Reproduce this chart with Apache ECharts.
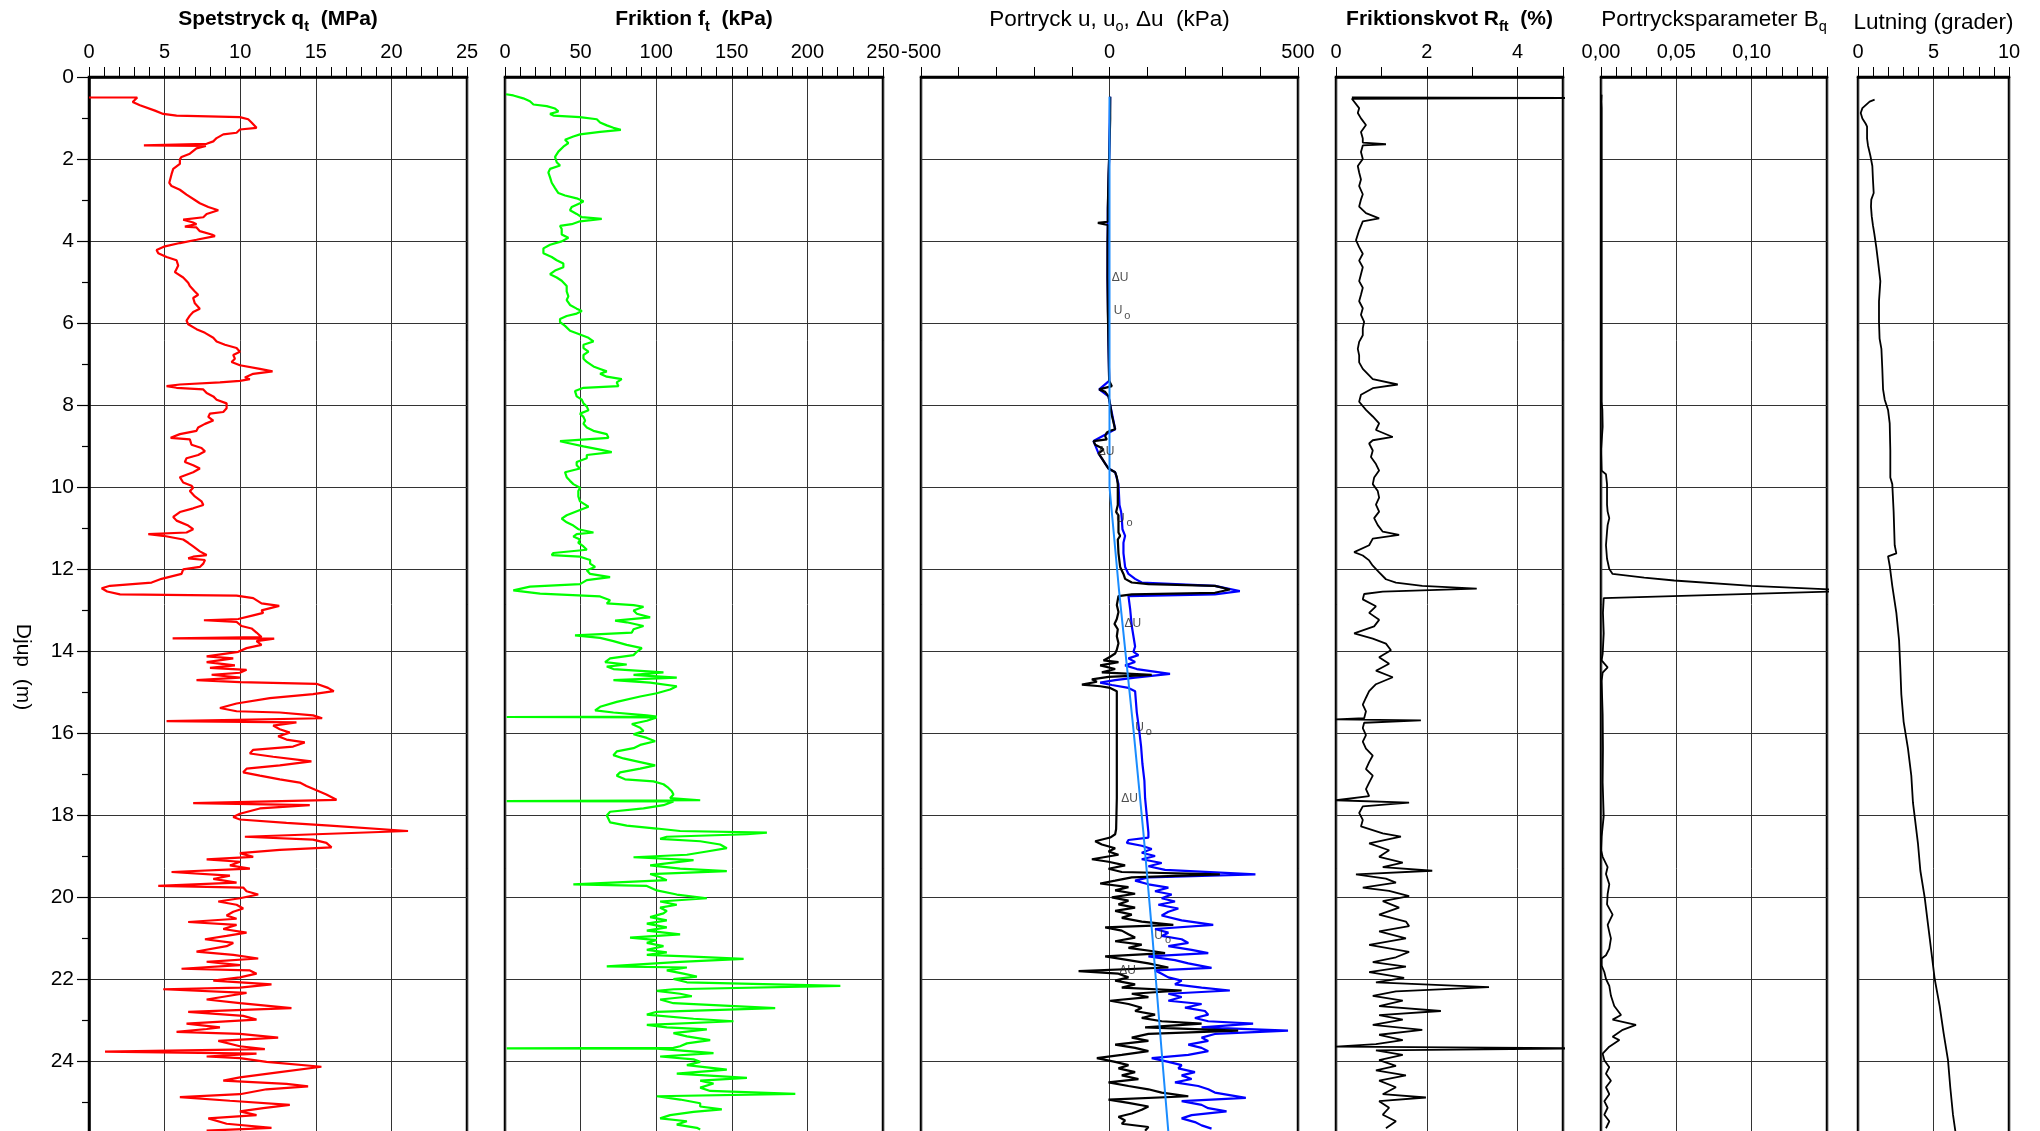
<!DOCTYPE html>
<html>
<head>
<meta charset="utf-8">
<title>CPT</title>
<script src="https://cdn.jsdelivr.net/npm/echarts@6/dist/echarts.min.js"></script>
<style>
html, body { margin: 0; padding: 0; background: #fff; }
#chart { width: 2040px; height: 1131px; }
</style>
</head>
<body>
<div id="chart"></div>
<script>
const FONT = 'Liberation Sans, Arial, sans-serif';

// all series: [djup (m), value]
const qtData = [[0.50,0],[0.50,3.19],[0.61,2.89],[0.69,3.37],[0.82,4.36],[0.90,4.91],[0.94,5.79],[0.98,9.98],[1.03,10.53],[1.11,10.75],[1.24,11.08],[1.28,9.98],[1.36,9.76],[1.40,8.88],[1.49,8.44],[1.57,8.22],[1.63,7.78],[1.66,7.67],[1.67,3.63],[1.68,7.73],[1.74,7.11],[1.87,6.67],[1.95,6.12],[2.01,6.01],[2.12,6.01],[2.24,5.57],[2.37,5.46],[2.58,5.31],[2.66,5.46],[2.75,6.01],[2.87,6.45],[3.00,7.00],[3.08,7.33],[3.17,7.89],[3.25,8.55],[3.34,7.78],[3.42,7.56],[3.48,6.23],[3.55,6.89],[3.59,7.11],[3.65,6.34],[3.67,7.11],[3.76,7.33],[3.84,8.11],[3.88,8.33],[3.97,7.11],[4.05,6.01],[4.13,5.02],[4.22,4.47],[4.30,4.58],[4.39,5.13],[4.47,5.79],[4.60,5.90],[4.68,5.79],[4.76,5.68],[4.89,6.23],[5.02,6.56],[5.10,6.67],[5.23,7.00],[5.31,7.22],[5.39,6.89],[5.52,7.00],[5.65,7.33],[5.73,6.89],[5.82,6.67],[5.94,6.45],[6.03,6.56],[6.15,7.11],[6.24,7.67],[6.36,8.22],[6.45,8.44],[6.53,8.99],[6.61,9.76],[6.70,9.98],[6.78,9.54],[6.87,9.65],[6.95,9.43],[7.03,9.98],[7.12,11.30],[7.18,12.14],[7.24,10.86],[7.33,10.31],[7.37,10.64],[7.41,9.98],[7.45,8.66],[7.50,6.01],[7.54,5.13],[7.58,5.79],[7.62,7.56],[7.71,7.78],[7.79,8.22],[7.87,8.44],[7.96,9.10],[8.08,9.10],[8.17,8.88],[8.21,8.00],[8.29,7.89],[8.38,8.22],[8.42,8.33],[8.46,7.67],[8.55,7.22],[8.63,7.11],[8.71,6.01],[8.80,5.40],[8.84,6.67],[8.97,6.78],[9.05,7.44],[9.13,7.67],[9.22,7.22],[9.30,6.45],[9.39,6.34],[9.47,6.89],[9.55,7.33],[9.64,6.89],[9.76,6.01],[9.89,6.23],[9.97,6.78],[10.02,6.89],[10.10,6.67],[10.23,7.00],[10.35,7.44],[10.44,7.56],[10.52,6.89],[10.61,6.01],[10.73,5.57],[10.82,5.79],[10.94,6.56],[11.03,6.89],[11.11,6.45],[11.15,3.92],[11.19,4.91],[11.28,6.23],[11.36,6.56],[11.45,6.89],[11.57,7.33],[11.66,7.78],[11.70,6.89],[11.74,6.56],[11.78,7.67],[11.87,7.56],[11.95,7.33],[12.01,6.23],[12.12,6.12],[12.24,4.80],[12.33,4.14],[12.41,1.39],[12.47,0.84],[12.55,1.20],[12.62,2.05],[12.65,9.76],[12.71,10.86],[12.84,11.41],[12.90,12.58],[13.01,11.41],[13.07,11.52],[13.13,10.86],[13.22,9.87],[13.25,7.60],[13.29,9.76],[13.39,10.09],[13.45,10.75],[13.55,11.08],[13.66,11.41],[13.69,5.53],[13.70,12.25],[13.76,11.08],[13.85,11.41],[13.93,10.42],[14.02,9.87],[14.06,9.76],[14.13,7.78],[14.18,9.54],[14.27,7.78],[14.35,9.65],[14.41,8.00],[14.46,10.42],[14.53,9.98],[14.58,8.11],[14.65,9.98],[14.71,7.11],[14.76,9.98],[14.80,15.04],[14.90,15.81],[14.98,16.19],[15.05,14.82],[15.15,11.96],[15.28,9.76],[15.39,8.66],[15.47,9.76],[15.50,12.62],[15.57,14.82],[15.64,15.42],[15.71,5.13],[15.74,13.72],[15.82,12.18],[15.91,12.62],[15.99,13.28],[16.08,12.51],[16.16,13.06],[16.23,14.27],[16.33,13.50],[16.41,10.86],[16.50,10.64],[16.58,12.18],[16.69,14.71],[16.79,12.62],[16.87,10.42],[16.96,10.20],[17.04,11.30],[17.13,12.62],[17.21,13.94],[17.29,14.38],[17.38,14.93],[17.50,15.70],[17.63,16.37],[17.71,6.89],[17.76,14.60],[17.84,11.30],[17.97,9.98],[18.05,9.54],[18.11,9.98],[18.19,13.06],[18.26,15.93],[18.39,21.10],[18.53,10.31],[18.60,14.82],[18.68,15.70],[18.79,16.04],[18.85,12.62],[18.93,9.98],[19.02,10.86],[19.08,7.78],[19.14,9.98],[19.23,9.32],[19.31,10.64],[19.39,5.46],[19.48,9.32],[19.56,8.22],[19.65,9.76],[19.73,4.58],[19.77,10.20],[19.86,10.42],[19.94,11.19],[20.03,9.98],[20.11,8.55],[20.19,9.76],[20.28,10.20],[20.36,9.54],[20.45,9.10],[20.53,9.76],[20.61,6.56],[20.68,9.76],[20.78,8.88],[20.87,10.42],[20.95,9.10],[21.03,7.67],[21.12,9.54],[21.20,9.10],[21.33,7.11],[21.41,9.54],[21.50,11.19],[21.58,7.78],[21.66,9.98],[21.75,6.12],[21.79,10.64],[21.87,11.08],[21.96,9.98],[22.04,8.22],[22.13,12.07],[22.21,9.98],[22.25,4.91],[22.34,10.42],[22.42,9.10],[22.50,7.78],[22.59,9.98],[22.71,13.39],[22.80,6.56],[22.90,10.20],[22.99,11.08],[23.09,6.45],[23.18,8.66],[23.22,7.78],[23.29,5.79],[23.34,9.98],[23.43,12.51],[23.51,8.55],[23.64,9.98],[23.71,11.63],[23.77,1.06],[23.82,11.08],[23.89,7.78],[23.93,9.98],[24.02,11.74],[24.14,15.37],[24.27,12.62],[24.40,9.98],[24.48,8.88],[24.56,13.06],[24.62,14.49],[24.69,11.74],[24.81,9.98],[24.88,6.01],[24.97,9.32],[25.07,13.28],[25.15,11.52],[25.23,9.98],[25.32,11.08],[25.40,7.89],[25.53,9.10],[25.63,12.07],[25.70,7.78],[25.74,9.98]];

const ftData = [[0.42,0.7],[0.45,5.5],[0.52,12.1],[0.59,16.5],[0.67,18.8],[0.71,27.6],[0.77,33.1],[0.84,35.3],[0.90,29.8],[0.94,32.0],[0.98,49.6],[1.03,60.7],[1.11,62.9],[1.18,67.3],[1.24,71.7],[1.29,76.6],[1.34,62.9],[1.40,49.6],[1.45,45.2],[1.53,39.7],[1.61,41.9],[1.70,38.6],[1.82,35.3],[1.95,33.1],[2.08,34.2],[2.16,36.4],[2.24,29.8],[2.33,28.7],[2.45,29.8],[2.58,30.9],[2.71,33.1],[2.83,35.3],[2.89,39.7],[2.96,47.4],[3.03,51.9],[3.08,49.6],[3.17,44.1],[3.25,43.0],[3.34,47.4],[3.42,50.8],[3.46,64.0],[3.52,49.6],[3.59,44.1],[3.63,36.4],[3.71,37.5],[3.84,37.5],[3.92,41.9],[4.01,37.5],[4.09,29.8],[4.18,25.4],[4.30,25.4],[4.39,30.9],[4.47,34.2],[4.55,38.6],[4.64,38.6],[4.72,33.1],[4.81,29.8],[4.89,34.2],[4.97,37.5],[5.10,40.8],[5.23,40.8],[5.35,41.9],[5.44,40.8],[5.56,43.0],[5.65,47.4],[5.71,50.8],[5.77,47.4],[5.83,40.8],[5.90,36.4],[5.98,36.4],[6.07,39.7],[6.19,43.0],[6.28,49.6],[6.36,55.2],[6.45,58.5],[6.53,51.9],[6.61,51.9],[6.70,55.2],[6.78,51.9],[6.87,51.9],[6.95,54.1],[7.06,58.5],[7.12,62.9],[7.18,67.3],[7.24,62.9],[7.31,67.3],[7.37,77.2],[7.45,73.9],[7.54,75.0],[7.58,51.9],[7.66,46.3],[7.79,47.4],[7.87,50.8],[7.96,51.9],[8.04,54.1],[8.13,55.2],[8.21,49.6],[8.29,51.9],[8.38,53.0],[8.46,51.9],[8.55,54.1],[8.63,58.5],[8.71,67.3],[8.80,68.4],[8.88,36.4],[8.92,40.8],[9.01,51.9],[9.09,62.9],[9.15,70.6],[9.22,54.1],[9.30,54.1],[9.39,47.4],[9.47,47.4],[9.55,49.6],[9.64,39.7],[9.76,40.8],[9.85,43.0],[9.93,45.2],[10.02,49.6],[10.10,48.5],[10.23,48.5],[10.35,49.6],[10.48,55.2],[10.56,49.6],[10.69,40.8],[10.77,37.5],[10.86,40.8],[10.94,45.2],[11.03,48.5],[11.11,58.5],[11.15,47.4],[11.21,45.2],[11.28,49.6],[11.36,48.5],[11.45,51.9],[11.53,54.1],[11.61,32.0],[11.66,30.9],[11.70,49.6],[11.78,56.3],[11.87,56.3],[11.95,59.6],[12.03,54.1],[12.12,56.3],[12.20,69.5],[12.27,54.1],[12.37,49.6],[12.43,16.5],[12.52,5.5],[12.60,23.2],[12.67,62.9],[12.71,64.0],[12.76,69.5],[12.84,67.3],[12.88,85.0],[12.92,91.6],[13.01,85.0],[13.09,87.2],[13.18,96.0],[13.26,72.8],[13.30,80.5],[13.39,91.6],[13.47,85.0],[13.55,83.9],[13.62,46.3],[13.68,62.9],[13.76,71.7],[13.85,80.5],[13.93,90.5],[14.02,87.2],[14.10,85.0],[14.18,69.5],[14.27,66.2],[14.33,80.5],[14.38,67.3],[14.44,71.7],[14.52,104.8],[14.58,85.0],[14.65,113.6],[14.71,71.7],[14.77,96.0],[14.86,113.6],[14.94,109.2],[15.03,100.4],[15.11,89.4],[15.24,73.9],[15.36,62.9],[15.45,59.6],[15.50,71.7],[15.57,93.8],[15.60,100.4],[15.61,1.1],[15.62,100.4],[15.70,93.8],[15.78,83.9],[15.87,89.4],[15.95,91.6],[16.03,85.0],[16.12,93.8],[16.20,99.3],[16.29,89.4],[16.37,85.0],[16.45,73.9],[16.54,71.7],[16.62,78.3],[16.71,89.4],[16.79,99.3],[16.87,89.4],[16.96,76.1],[17.04,73.9],[17.13,79.4],[17.18,98.2],[17.25,104.8],[17.34,108.1],[17.42,110.3],[17.50,111.4],[17.59,109.2],[17.64,129.1],[17.66,1.1],[17.67,111.4],[17.76,104.8],[17.84,91.6],[17.92,69.5],[18.01,67.3],[18.09,68.4],[18.18,69.5],[18.26,80.5],[18.33,100.4],[18.39,115.8],[18.43,173.2],[18.47,160.0],[18.53,107.0],[18.58,102.6],[18.64,129.1],[18.72,142.3],[18.81,146.7],[18.89,133.5],[18.97,120.3],[19.03,85.0],[19.10,124.7],[19.18,107.0],[19.23,96.0],[19.31,115.8],[19.37,146.7],[19.44,96.0],[19.52,102.6],[19.59,107.0],[19.69,45.2],[19.73,93.8],[19.84,100.4],[19.94,113.6],[20.03,133.5],[20.11,102.6],[20.19,113.6],[20.26,102.6],[20.34,107.0],[20.40,104.8],[20.49,96.0],[20.57,107.0],[20.65,93.8],[20.74,107.0],[20.82,93.8],[20.91,115.8],[20.99,82.7],[21.05,100.4],[21.12,93.8],[21.20,104.8],[21.29,93.8],[21.35,107.0],[21.41,93.8],[21.45,120.3],[21.51,157.8],[21.58,115.8],[21.69,67.3],[21.72,120.3],[21.79,107.0],[21.87,118.0],[21.94,126.9],[22.00,111.4],[22.08,120.3],[22.17,221.8],[22.25,111.4],[22.29,100.4],[22.36,115.8],[22.42,123.6],[22.50,102.6],[22.59,111.4],[22.71,178.7],[22.80,100.4],[22.87,93.8],[22.97,124.7],[23.03,151.1],[23.12,93.8],[23.18,107.0],[23.23,133.5],[23.32,111.4],[23.40,120.3],[23.49,135.7],[23.57,120.3],[23.64,115.8],[23.68,111.4],[23.69,1.1],[23.70,100.4],[23.81,137.9],[23.89,102.6],[23.96,124.7],[24.02,129.1],[24.10,120.3],[24.21,146.7],[24.31,113.6],[24.41,160.0],[24.48,129.1],[24.55,137.9],[24.65,129.1],[24.73,135.7],[24.80,192.0],[24.86,100.4],[24.94,115.8],[25.03,129.1],[25.11,129.1],[25.18,143.4],[25.24,124.7],[25.32,109.2],[25.40,102.6],[25.47,120.3],[25.55,113.6],[25.63,126.9],[25.67,129.1]];

// portryck u (blue), delta u (black), u0 (light blue)
const uData = [[0.48,1.8],[1.95,-0.9],[3.21,-4.4],[4.89,-5.3],[6.57,-2.6],[7.41,-0.9],[7.62,-27.3],[7.79,-2.6],[8.59,15.0],[8.88,-42.3],[9.18,-29.1],[9.55,-2.6],[9.64,15.0],[9.93,23.8],[10.44,26.5],[10.61,30.9],[10.77,32.6],[11.03,34.4],[11.19,41.4],[11.36,37.0],[11.61,37.0],[11.95,41.4],[12.12,50.3],[12.24,67.9],[12.33,85.5],[12.41,279.5],[12.54,345.7],[12.62,279.5],[12.66,50.3],[12.97,54.7],[13.22,57.3],[13.39,59.1],[13.64,63.5],[13.89,67.9],[14.02,63.5],[14.10,76.7],[14.18,50.3],[14.27,67.9],[14.35,41.4],[14.44,72.3],[14.56,160.5],[14.65,67.9],[14.71,15.0],[14.77,-24.7],[14.83,6.2],[14.90,50.3],[14.98,67.9],[15.49,72.3],[15.91,78.5],[16.33,83.8],[16.75,87.3],[17.17,92.6],[17.59,94.4],[18.01,98.8],[18.43,103.2],[18.55,103.2],[18.61,50.3],[18.68,45.9],[18.75,85.5],[18.83,112.0],[18.92,85.5],[19.00,120.8],[19.08,85.5],[19.17,138.4],[19.25,103.2],[19.34,147.3],[19.45,387.1],[19.52,103.2],[19.60,67.9],[19.69,103.2],[19.77,156.1],[19.86,120.8],[19.94,164.9],[20.03,138.4],[20.11,173.7],[20.19,129.6],[20.28,182.5],[20.36,156.1],[20.45,138.4],[20.57,191.4],[20.68,275.1],[20.78,120.8],[20.87,156.1],[20.95,138.4],[21.03,191.4],[21.12,209.0],[21.20,156.1],[21.29,217.8],[21.37,261.9],[21.45,103.2],[21.54,173.7],[21.62,209.0],[21.73,270.7],[21.79,120.8],[21.87,138.4],[21.96,156.1],[22.04,191.4],[22.13,173.7],[22.21,244.3],[22.28,319.2],[22.36,156.1],[22.44,191.4],[22.53,156.1],[22.61,244.3],[22.70,200.2],[22.78,253.1],[22.87,261.9],[22.95,226.6],[23.03,261.9],[23.09,380.9],[23.18,244.3],[23.26,473.5],[23.34,279.5],[23.43,244.3],[23.51,261.9],[23.60,209.0],[23.68,244.3],[23.76,261.9],[23.85,209.0],[23.93,112.0],[24.02,156.1],[24.10,191.4],[24.18,182.5],[24.27,226.6],[24.35,191.4],[24.44,217.8],[24.52,173.7],[24.61,235.4],[24.69,261.9],[24.77,279.5],[24.90,361.5],[24.98,191.4],[25.07,244.3],[25.15,261.9],[25.23,310.4],[25.32,217.8],[25.40,191.4],[25.49,226.6],[25.57,244.3],[25.65,270.7]];

const duData = [[0.48,1.8],[1.03,1.8],[1.95,-0.9],[2.37,-2.6],[3.21,-4.4],[3.53,-4.4],[3.56,-30.9],[3.61,-4.4],[4.05,-5.3],[4.89,-5.3],[5.73,-4.4],[6.57,-2.6],[7.41,-0.9],[7.54,6.2],[7.62,-27.3],[7.68,-11.5],[7.79,-2.6],[8.00,1.8],[8.25,6.2],[8.59,15.0],[8.63,1.8],[8.67,-7.1],[8.76,-11.5],[8.84,-7.1],[8.88,-42.3],[8.97,-37.9],[9.03,-24.7],[9.09,-15.9],[9.18,-29.1],[9.30,-20.3],[9.43,-11.5],[9.55,-2.6],[9.64,15.0],[9.76,19.4],[9.93,22.0],[10.44,22.0],[10.61,17.6],[10.69,23.8],[11.11,23.8],[11.19,28.2],[11.28,22.0],[11.61,23.8],[11.95,28.2],[12.12,37.0],[12.24,41.4],[12.33,59.1],[12.37,103.2],[12.41,279.5],[12.50,319.2],[12.58,279.5],[12.62,59.1],[12.66,23.8],[12.88,19.4],[13.05,23.8],[13.22,19.4],[13.34,13.2],[13.47,22.0],[13.64,19.4],[13.81,23.8],[13.97,19.4],[14.06,15.0],[14.14,1.8],[14.23,-15.9],[14.27,23.8],[14.35,-24.7],[14.44,15.0],[14.52,-20.3],[14.58,112.0],[14.63,-2.6],[14.69,-46.7],[14.75,-33.5],[14.82,-73.2],[14.86,-24.7],[14.90,1.8],[14.98,19.4],[15.91,19.4],[16.75,19.4],[17.59,19.4],[18.34,17.6],[18.47,15.0],[18.55,1.8],[18.64,-37.9],[18.72,-20.3],[18.81,15.0],[18.89,-2.6],[18.97,23.8],[19.08,-46.7],[19.14,-2.6],[19.23,41.4],[19.31,-2.6],[19.39,32.6],[19.45,292.8],[19.52,59.1],[19.60,15.0],[19.67,-24.7],[19.76,50.3],[19.84,15.0],[19.92,67.9],[20.01,6.2],[20.09,50.3],[20.18,23.8],[20.26,67.9],[20.34,15.0],[20.43,59.1],[20.51,32.6],[20.60,85.5],[20.68,169.3],[20.74,-11.5],[20.82,32.6],[20.91,50.3],[20.99,67.9],[21.08,15.0],[21.16,85.5],[21.24,50.3],[21.33,120.8],[21.37,147.3],[21.45,-11.5],[21.54,50.3],[21.62,103.2],[21.72,156.1],[21.81,-82.0],[21.87,23.8],[21.96,50.3],[22.04,15.0],[22.13,67.9],[22.21,32.6],[22.28,191.4],[22.36,59.1],[22.44,103.2],[22.53,1.8],[22.61,50.3],[22.70,85.5],[22.78,67.9],[22.87,120.8],[22.95,85.5],[23.03,138.4],[23.09,244.3],[23.18,94.4],[23.26,341.3],[23.34,103.2],[23.43,59.1],[23.51,103.2],[23.60,15.0],[23.68,67.9],[23.76,103.2],[23.85,32.6],[23.93,-33.5],[24.02,15.0],[24.10,50.3],[24.18,23.8],[24.27,67.9],[24.35,32.6],[24.44,76.7],[24.52,-2.6],[24.61,50.3],[24.69,103.2],[24.77,138.4],[24.86,209.0],[24.94,-2.6],[25.02,50.3],[25.11,103.2],[25.19,85.5],[25.28,59.1],[25.36,23.8],[25.45,41.4],[25.53,32.6],[25.61,103.2],[25.70,94.4]];

const u0Data = [[0.48,0],[10.0,0],[12.55,25.6],[15.91,63.5],[18.43,89.9],[20.95,113.7],[23.97,140.1],[25.72,156.0]];

// curve labels in the pore pressure panel: [kind, u, djup]
const puLabels = [['du',6,4.89],['u0',11,5.71],['du',-31,9.13],['u0',17,10.77],['du',40,13.34],['u0',68,15.87],['du',31,17.59],['u0',119,20.94],['du',26,21.80]];

const rfData = [[0.50,0.35],[0.51,6.0],[0.53,0.35],[0.76,0.51],[0.88,0.48],[1.01,0.55],[1.17,0.66],[1.34,0.55],[1.50,0.59],[1.60,0.59],[1.64,1.10],[1.67,0.59],[1.83,0.55],[2.00,0.59],[2.17,0.48],[2.33,0.51],[2.50,0.55],[2.66,0.51],[2.86,0.59],[2.99,0.55],[3.16,0.51],[3.32,0.66],[3.45,0.95],[3.52,0.59],[3.74,0.51],[3.98,0.44],[4.15,0.51],[4.31,0.59],[4.48,0.51],[4.64,0.59],[4.81,0.55],[4.98,0.51],[5.14,0.59],[5.31,0.55],[5.47,0.51],[5.64,0.59],[5.80,0.55],[5.97,0.62],[6.13,0.59],[6.30,0.59],[6.46,0.51],[6.63,0.48],[6.79,0.51],[6.96,0.51],[7.12,0.59],[7.37,0.81],[7.50,1.36],[7.59,0.81],[7.75,0.55],[7.92,0.51],[8.12,0.66],[8.28,0.81],[8.45,0.95],[8.61,0.88],[8.78,1.25],[8.86,0.81],[8.94,0.73],[9.11,0.81],[9.27,0.77],[9.44,0.88],[9.60,0.95],[9.77,0.84],[9.93,0.81],[10.10,0.92],[10.26,0.95],[10.43,0.88],[10.60,0.95],[10.76,0.84],[10.93,0.92],[11.09,1.03],[11.17,1.39],[11.26,0.81],[11.42,0.73],[11.59,0.40],[11.67,0.59],[11.79,0.73],[11.92,0.81],[12.08,0.95],[12.25,1.10],[12.33,1.32],[12.41,1.90],[12.48,3.10],[12.55,1.03],[12.61,0.62],[12.74,0.59],[12.91,0.88],[13.07,0.73],[13.24,0.95],[13.40,0.84],[13.57,0.40],[13.70,0.81],[13.82,1.10],[13.98,1.21],[14.15,0.95],[14.31,1.17],[14.48,0.88],[14.64,1.25],[14.81,0.88],[14.98,0.73],[15.14,0.66],[15.31,0.59],[15.47,0.66],[15.64,0.62],[15.67,0],[15.69,1.87],[15.75,0.62],[15.88,0.59],[16.05,0.66],[16.21,0.59],[16.38,0.66],[16.55,0.81],[16.71,0.73],[16.88,0.66],[17.04,0.81],[17.21,0.73],[17.37,0.66],[17.54,0.73],[17.64,0],[17.70,1.61],[17.79,0.59],[17.95,0.51],[18.12,0.59],[18.28,0.55],[18.45,1.03],[18.53,1.43],[18.69,0.73],[18.86,1.17],[19.02,0.95],[19.16,1.47],[19.27,1.03],[19.36,2.12],[19.45,0.44],[19.55,1.10],[19.65,1.32],[19.77,0.59],[19.85,1.17],[19.98,1.61],[20.10,1.03],[20.26,1.39],[20.43,0.95],[20.60,1.54],[20.71,1.61],[20.84,0.95],[21.01,1.54],[21.17,0.73],[21.34,1.61],[21.47,1.32],[21.59,0.81],[21.70,1.54],[21.83,0.73],[21.97,1.50],[22.08,0.88],[22.20,3.37],[22.30,1.32],[22.41,0.81],[22.53,1.47],[22.66,0.95],[22.78,2.31],[22.88,0.95],[22.99,1.47],[23.12,0.81],[23.24,1.90],[23.36,0.95],[23.49,1.47],[23.59,0.88],[23.65,0],[23.69,6.0],[23.74,0.88],[23.85,1.47],[23.98,0.95],[24.12,1.32],[24.23,0.88],[24.35,1.54],[24.48,0.95],[24.64,1.32],[24.81,1.03],[24.89,1.98],[24.98,0.95],[25.14,1.17],[25.31,1.03],[25.47,1.32],[25.64,1.10]];

const bqData = [[0.43,0.0004],[0.60,0.0002],[0.76,0.0004],[7.92,0.0004],[8.12,0.0009],[8.53,0.0011],[9.11,0],[9.60,0.0004],[9.69,0.0033],[9.93,0.0040],[10.43,0.0040],[10.60,0.0044],[10.76,0.0055],[10.93,0.0044],[11.09,0.0040],[11.42,0.0033],[11.75,0.0040],[12.00,0.0055],[12.12,0.0077],[12.21,0.0287],[12.28,0.0486],[12.41,0.0999],[12.50,0.152],[12.55,0.152],[12.71,0.0018],[13.07,0.0013],[13.57,0.0018],[14.07,0.0011],[14.23,0.0004],[14.40,0.0044],[14.53,0.0011],[14.73,0.0004],[15.55,0.0011],[16.38,0.0013],[17.21,0.0011],[18.03,0.0018],[18.53,0.0004],[18.86,0],[19.02,0.0011],[19.27,0.0044],[19.44,0.0033],[19.69,0.0055],[19.93,0.0044],[20.18,0.0040],[20.43,0.0077],[20.68,0.0044],[21.01,0.0066],[21.26,0.0055],[21.42,0.0033],[21.50,0.0004],[21.67,0.0004],[21.83,0.0022],[22.00,0.0033],[22.17,0.0055],[22.41,0.0066],[22.66,0.0088],[22.88,0.0133],[22.99,0.0077],[23.12,0.0232],[23.24,0.0144],[23.41,0.0077],[23.49,0.0122],[23.65,0.0055],[23.82,0.0011],[23.98,0.0022],[24.15,0.0055],[24.31,0.0033],[24.48,0.0066],[24.64,0.0033],[24.81,0.0055],[24.98,0.0022],[25.14,0.0044],[25.31,0.0022],[25.47,0.0055],[25.64,0.0033]];

const lutData = [[0.55,1.10],[0.60,0.77],[0.76,0.29],[0.88,0.18],[1.01,0.29],[1.14,0.51],[1.21,0.60],[1.50,0.60],[1.67,0.66],[1.92,0.82],[2.17,0.95],[2.50,0.99],[2.83,1.04],[2.99,0.88],[3.16,0.86],[3.40,0.91],[3.62,0.99],[3.82,1.08],[4.15,1.21],[4.48,1.32],[4.98,1.48],[5.47,1.39],[5.97,1.39],[6.38,1.43],[6.63,1.55],[7.12,1.61],[7.62,1.66],[7.87,1.77],[8.12,1.99],[8.45,2.10],[9.11,2.14],[9.77,2.14],[9.93,2.27],[10.60,2.36],[11.42,2.43],[11.62,2.54],[11.69,1.99],[11.92,2.10],[12.41,2.27],[13.07,2.54],[13.74,2.72],[14.40,2.80],[15.06,2.87],[15.72,3.02],[16.38,3.31],[17.04,3.53],[17.70,3.64],[18.03,3.75],[18.69,3.97],[19.36,4.13],[20.02,4.42],[20.68,4.64],[21.34,4.86],[22.00,5.08],[22.66,5.41],[23.32,5.67],[23.98,5.96],[24.64,6.11],[25.31,6.29],[25.77,6.47]];

const chart = echarts.init(document.getElementById('chart'));

const panels = [
  { left: 89, width: 378, min: 0, max: 25, interval: 5, minor: 5, bold: true,
    name: '{t|Spetstryck q}{s|t}{t|  (MPa)}' },
  { left: 505, width: 378, min: 0, max: 250, interval: 50, minor: 5, bold: true,
    name: '{t|Friktion f}{s|t}{t|  (kPa)}' },
  { left: 921, width: 377, min: -500, max: 500, interval: 500, minor: 5, bold: false,
    name: '{t|Portryck u, u}{s|o}{t|, \u0394u  (kPa)}' },
  { left: 1336, width: 227, min: 0, max: 5, interval: 1, minor: 0, bold: true,
    name: '{t|Friktionskvot R}{s|ft}{t|  (%)}' },
  { left: 1601, width: 226, min: 0, max: 0.15, interval: 0.05, minor: 5, bold: false,
    name: '{t|Portrycksparameter B}{s|q}' },
  { left: 1858, width: 151, min: 0, max: 10, interval: 5, minor: 5, bold: false,
    name: '{t|Lutning (grader)}' }
];

const DEPTH_MAX = 27;
const PX_PER_M = 41;

function nameStyle(bold) {
  const w = bold ? 'bold' : 'normal';
  const big = bold ? 21 : 22.5;
  return {
    color: '#000',
    fontFamily: FONT,
    rich: {
      t: { fontSize: big, fontWeight: w, fontFamily: FONT, color: '#000' },
      s: { fontSize: 14.5, fontWeight: w, fontFamily: FONT, color: '#000', padding: [14, 0, 0, 0] }
    }
  };
}

const grids = panels.map(p => ({
  left: p.left, top: 77, width: p.width, height: DEPTH_MAX * PX_PER_M,
  outerBoundsMode: 'none',
  containLabel: false,
  show: true, borderColor: '#000', borderWidth: 2.5, backgroundColor: 'transparent'
}));

const xAxes = panels.map((p, i) => ({
  gridIndex: i,
  type: 'value',
  position: 'top',
  min: p.min,
  max: p.max,
  interval: p.interval,
  name: p.name,
  nameLocation: 'middle',
  nameGap: 43,
  nameTextStyle: nameStyle(p.bold),
  axisLine: { show: true, onZero: false, lineStyle: { color: '#000', width: 2.5 } },
  axisTick: { show: true, length: 10, lineStyle: { color: '#000', width: 1 } },
  minorTick: { show: p.minor > 0, splitNumber: p.minor || 5, length: 10, lineStyle: { color: '#000', width: 1 } },
  axisLabel: {
    color: '#000', fontFamily: FONT, fontSize: 20, margin: 15,
    showMaxLabel: i === 4 ? false : null,
    formatter: i === 4 ? (v => v.toFixed(2).replace('.', ','))
             : i === 3 ? (v => (v % 2 === 0 ? String(v) : ''))
             : (v => String(v))
  },
  splitLine: { show: i !== 3, lineStyle: { color: '#333', width: 1 } }
}));
// grid lines of the friction ratio panel only every 2 %
xAxes.push({
  gridIndex: 3, type: 'value', position: 'bottom', min: 0, max: 5, interval: 2,
  axisLine: { show: false }, axisTick: { show: false }, axisLabel: { show: false },
  splitLine: { show: true, lineStyle: { color: '#333', width: 1 } }
});

const yAxes = panels.map((p, i) => ({
  gridIndex: i,
  type: 'value',
  inverse: true,
  min: 0,
  max: DEPTH_MAX,
  interval: 2,
  axisLine: { show: i === 0, onZero: false, lineStyle: { color: '#000', width: 2.5 } },
  axisTick: { show: i === 0, length: 12, lineStyle: { color: '#000', width: 1.2 } },
  minorTick: { show: i === 0, splitNumber: 2, length: 7, lineStyle: { color: '#000', width: 1.2 } },
  axisLabel: {
    show: i === 0, color: '#000', fontFamily: FONT, fontSize: 21, margin: 15,
    formatter: v => (v > 25 ? '' : String(v))
  },
  splitLine: { show: true, lineStyle: { color: '#333', width: 1 } }
}));

function profile(data, xi, color, width, z) {
  return {
    type: 'line',
    xAxisIndex: xi,
    yAxisIndex: xi,
    data: data.map(p => [p[1], p[0]]),
    symbol: 'none',
    clip: true,
    z: z || 2,
    lineStyle: { color: color, width: width },
    animation: false
  };
}

const series = [
  profile(qtData, 0, '#ff0000', 2.2),
  profile(ftData, 1, '#00ff00', 2.2),
  profile(uData, 2, '#0000ff', 2.2, 2),
  profile(duData, 2, '#000000', 2.2, 3),
  profile(u0Data, 2, '#1a8cff', 2, 4),
  profile(rfData, 3, '#000000', 1.8),
  profile(bqData, 4, '#000000', 1.8),
  profile(lutData, 5, '#000000', 1.8),
  {
    type: 'scatter',
    xAxisIndex: 2,
    yAxisIndex: 2,
    symbolSize: 0,
    z: 5,
    data: puLabels.map(l => ({ value: [l[1], l[2]], kind: l[0] })),
    label: {
      show: true,
      position: 'right',
      distance: 0,
      formatter: p => (p.data.kind === 'u0' ? '{a|U}{b|o}' : '{a|\u0394U}'),
      rich: {
        a: { fontSize: 12, fontFamily: FONT, color: '#222' },
        b: { fontSize: 11, fontFamily: FONT, color: '#222', padding: [9, 0, 0, 2] }
      }
    },
    animation: false
  }
];

chart.setOption({
  backgroundColor: '#fff',
  animation: false,
  grid: grids,
  xAxis: xAxes,
  yAxis: yAxes,
  series: series,
  graphic: [{
    type: 'text',
    x: 23,
    y: 667,
    rotation: -Math.PI / 2,
    style: {
      text: 'Djup  (m)',
      fill: '#000',
      font: '21px ' + FONT,
      textAlign: 'center',
      textVerticalAlign: 'middle'
    }
  }]
});
</script>
</body>
</html>
